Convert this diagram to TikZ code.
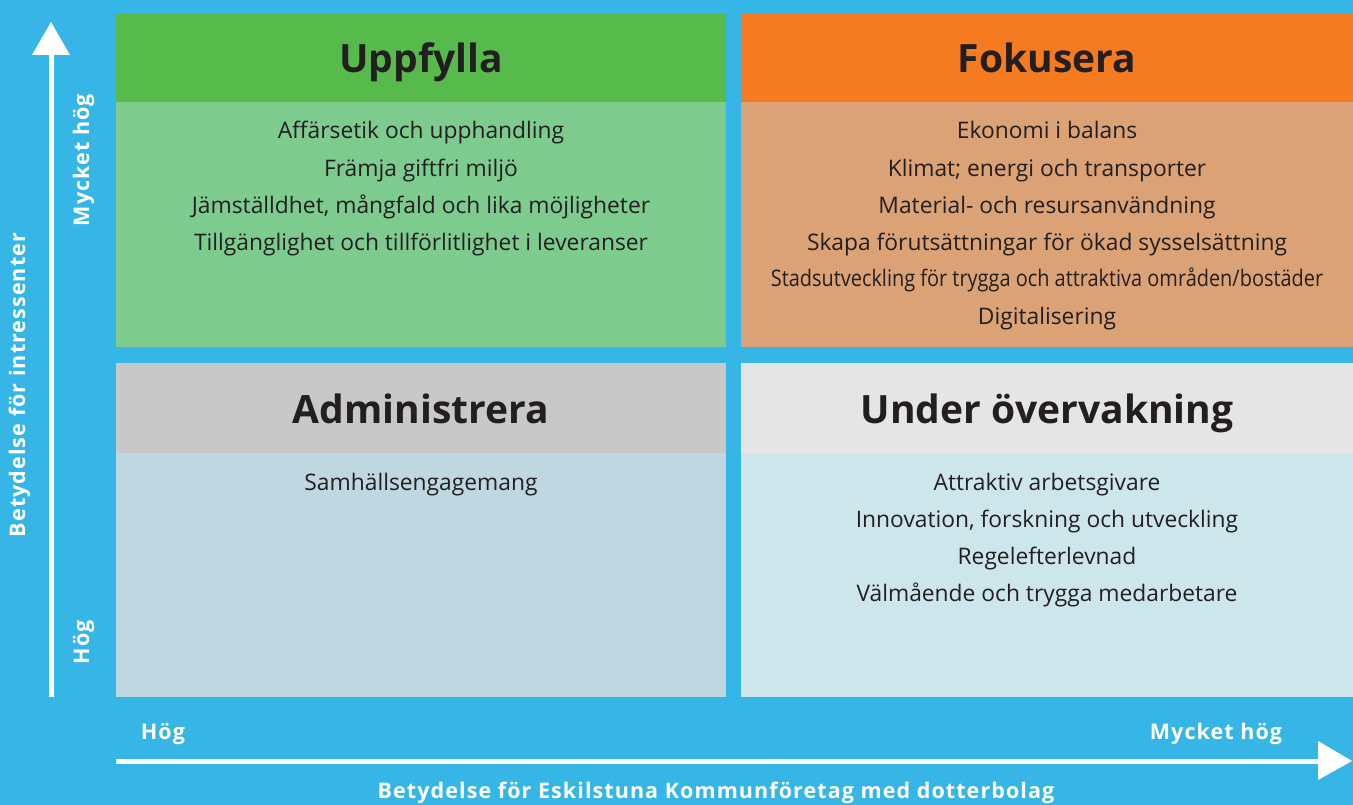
\documentclass[tikz,border=0pt]{standalone}
\usepackage{fontspec}
\setmainfont{Open Sans}
\usepackage{graphicx}
\definecolor{bg}{HTML}{35B6E6}
\definecolor{ghead}{HTML}{57BB4B}
\definecolor{gbody}{HTML}{7DCB8E}
\definecolor{ohead}{HTML}{F47B20}
\definecolor{obody}{HTML}{DBA276}
\definecolor{lhead}{HTML}{C8C8C8}
\definecolor{lbody}{HTML}{BED7E0}
\definecolor{rhead}{HTML}{E5E5E5}
\definecolor{rbody}{HTML}{CCE6EC}
\definecolor{txt}{HTML}{231F20}
\begin{document}
\begin{tikzpicture}[x=1pt,y=-1pt,
  head/.style={font=\fontsize{39}{44}\selectfont\bfseries, text=txt, anchor=base},
  body/.style={font=\fontsize{22.8}{26}\selectfont, text=txt, anchor=base},
  axl/.style={font=\fontsize{21.5}{24}\selectfont\bfseries\addfontfeatures{LetterSpace=5}, text=white, anchor=base},
  axarrow/.style={draw=white, line width=5pt}
]
\fill[bg] (0,0) rectangle (1353,805);
\useasboundingbox (0,0) rectangle (1353,805);
% boxes
\fill[ghead] (116,14) rectangle (726,102);
\fill[gbody] (116,102) rectangle (726,347);
\fill[ohead] (741,14) rectangle (1353,102);
\fill[obody] (741,102) rectangle (1353,347);
\fill[lhead] (116,363) rectangle (726,453);
\fill[lbody] (116,453) rectangle (726,697);
\fill[rhead] (741,363) rectangle (1353,453);
\fill[rbody] (741,453) rectangle (1353,697);
% headers
\node[head] (h1) at (421,73) {Uppfylla};
\node[head] (h2) at (1047,73) {Fokusera};
\node[head] (h3) at (421,423) {Administrera};
\node[head] (h4) at (1047,423) {Under övervakning};
% bodies
\node[body] (a1) at (421,139) {Affärsetik och upphandling};
\node[body] (a2) at (421,177) {Främja giftfri miljö};
\node[body] (a3) at (421,214) {Jämställdhet, mångfald och lika möjligheter};
\node[body] (a4) at (421,251) {Tillgänglighet och tillförlitlighet i leveranser};
\node[body] (b1) at (1047,139) {Ekonomi i balans};
\node[body] (b2) at (1047,177) {Klimat; energi och transporter};
\node[body] (b3) at (1047,214) {Material- och resursanvändning};
\node[body] (b4) at (1047,251) {Skapa förutsättningar för ökad sysselsättning};
\node[body] (b5) at (1047,287) {\scalebox{0.874}[1]{Stadsutveckling för trygga och attraktiva områden/bostäder}};
\node[body] (b6) at (1047,324) {Digitalisering};
\node[body] (c1) at (421,490) {Samhällsengagemang};
\node[body] (d1) at (1047,490) {Attraktiv arbetsgivare};
\node[body] (d2) at (1047,527) {Innovation, forskning och utveckling};
\node[body] (d3) at (1047,564) {Regelefterlevnad};
\node[body] (d4) at (1047,601) {Välmående och trygga medarbetare};
% axes
\coordinate (vs) at (51,697);
\coordinate (vb) at (51,54);
\coordinate (vt) at (51,22);
\draw[axarrow] (vs) -- (vb);
\fill[white] (vt) -- (70,55) -- (32,55) -- cycle;
\coordinate (hs) at (116,761);
\coordinate (hb) at (1320,761);
\coordinate (ht) at (1352,761);
\draw[axarrow] (hs) -- (hb);
\fill[white] (ht) -- (1318,741) -- (1318,780) -- cycle;
% axis labels
\node[axl, rotate=90] (l1) at (89,160) {Mycket hög};
\node[axl, rotate=90] (l2) at (89,642) {Hög};
\node[axl, rotate=90] (l3) at (25,385) {Betydelse för intressenter};
\node[axl] (l4) at (163,739) {Hög};
\node[axl] (l5) at (1216,739) {Mycket hög};
\node[axl] (l6) at (716,798) {Betydelse för Eskilstuna Kommunföretag med dotterbolag};
\end{tikzpicture}
\end{document}
